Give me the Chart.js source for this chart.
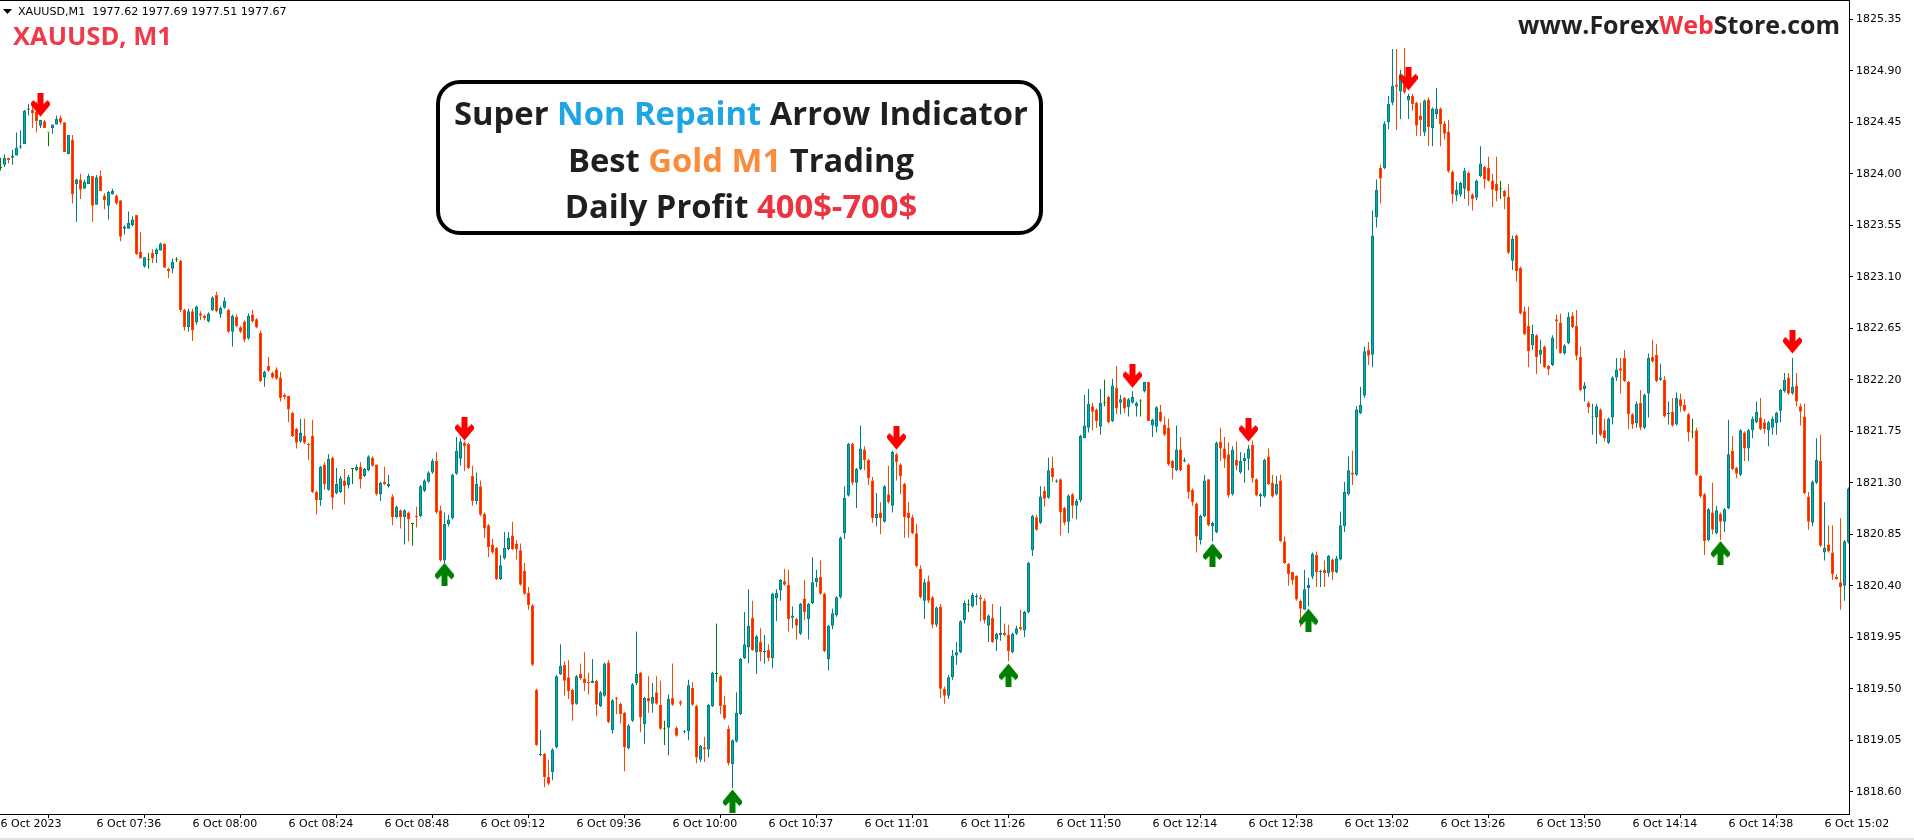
<!DOCTYPE html>
<html>
<head>
<meta charset="utf-8">
<title>XAUUSD M1</title>
<script src="https://cdn.jsdelivr.net/npm/chart.js@4.4.1/dist/chart.umd.min.js"></script>
<style>
    html, body { margin: 0; padding: 0; background: #fff; overflow: hidden; }
    #wrap { width: 1914px; height: 840px; }
</style>
</head>
<body>
<div id="wrap"><canvas id="chart" width="1914" height="840"></canvas></div>
<script>
// ── Price data, one M1 bar per entry ─────────────────────────────────
const opens = [
    1824.05, 1824.08, 1824.14, 1824.14, 1824.16, 1824.23, 1824.26, 1824.56, 1824.56, 1824.54,
    1824.42, 1824.46, 1824.36, 1824.40, 1824.43, 1824.49, 1824.45, 1824.17, 1824.30, 1823.91,
    1823.95, 1823.87, 1823.91, 1823.98, 1823.73, 1823.98, 1823.81, 1823.72, 1823.82, 1823.81,
    1823.77, 1823.52, 1823.52, 1823.55, 1823.64, 1823.32, 1823.19, 1823.25, 1823.31, 1823.30,
    1823.33, 1823.39, 1823.17, 1823.17, 1823.25, 1823.24, 1822.81, 1822.66, 1822.80, 1822.70,
    1822.78, 1822.76, 1822.71, 1822.81, 1822.94, 1822.77, 1822.83, 1822.81, 1822.62, 1822.75,
    1822.66, 1822.71, 1822.56, 1822.77, 1822.73, 1822.61, 1822.22, 1822.32, 1822.26, 1822.29,
    1822.22, 1822.07, 1822.06, 1821.91, 1821.77, 1821.66, 1821.71, 1821.64, 1821.71, 1821.22,
    1821.15, 1821.46, 1821.24, 1821.52, 1821.21, 1821.22, 1821.32, 1821.28, 1821.42, 1821.41,
    1821.44, 1821.36, 1821.41, 1821.52, 1821.46, 1821.20, 1821.31, 1821.27, 1821.18, 1821.00,
    1821.06, 1821.00, 1821.04, 1820.94, 1821.01, 1821.01, 1821.23, 1821.31, 1821.39, 1821.49,
    1821.06, 1820.62, 1820.94, 1820.99, 1821.38, 1821.51, 1821.65, 1821.64, 1821.36, 1821.14,
    1821.27, 1821.03, 1820.93, 1820.76, 1820.73, 1820.46, 1820.64, 1820.72, 1820.84, 1820.77,
    1820.71, 1820.53, 1820.34, 1820.23, 1819.49, 1818.92, 1818.93, 1818.73, 1818.77, 1818.99,
    1819.63, 1819.71, 1819.60, 1819.49, 1819.37, 1819.63, 1819.59, 1819.56, 1819.55, 1819.57,
    1819.35, 1819.44, 1819.73, 1819.14, 1819.42, 1819.37, 1819.29, 1818.98, 1819.22, 1819.55,
    1819.64, 1819.19, 1819.42, 1819.37, 1819.47, 1819.36, 1819.15, 1819.16, 1819.42, 1819.16,
    1819.39, 1819.12, 1819.13, 1819.51, 1819.35, 1818.88, 1818.99, 1818.97, 1819.35, 1819.63,
    1819.61, 1819.36, 1819.15, 1818.84, 1819.04, 1819.28, 1819.77, 1819.86, 1820.12, 1819.82,
    1819.91, 1819.82, 1819.84, 1819.77, 1820.29, 1820.36, 1820.44, 1820.41, 1820.12, 1820.11,
    1819.98, 1820.29, 1820.11, 1820.25, 1820.43, 1820.48, 1820.33, 1819.76, 1820.05, 1820.14,
    1820.30, 1820.86, 1821.19, 1821.64, 1821.30, 1821.42, 1821.59, 1821.50, 1821.32, 1820.99,
    1821.04, 1820.96, 1821.20, 1821.10, 1821.55, 1821.46, 1821.29, 1821.04, 1821.00, 1820.86,
    1820.55, 1820.27, 1820.44, 1820.30, 1820.06, 1820.22, 1819.50, 1819.44, 1819.60, 1819.79,
    1819.82, 1820.10, 1820.23, 1820.22, 1820.30, 1820.30, 1820.27, 1820.05, 1820.12, 1819.93,
    1819.97, 1819.99, 1819.97, 1819.82, 1819.98, 1820.04, 1820.01, 1820.17, 1820.71, 1821.00,
    1820.95, 1821.23, 1821.17, 1821.43, 1821.31, 1821.33, 1821.08, 1820.96, 1821.20, 1821.10,
    1821.15, 1821.69, 1821.78, 1821.97, 1821.94, 1821.79, 1822.00, 1822.05, 1821.84, 1822.13,
    1822.00, 1822.04, 1821.96, 1822.00, 1821.97, 1822.01, 1822.10, 1822.18, 1821.80, 1821.79,
    1821.92, 1821.81, 1821.78, 1821.49, 1821.41, 1821.59, 1821.49, 1821.46, 1821.24, 1821.12,
    1820.80, 1821.01, 1821.33, 1820.92, 1820.87, 1821.66, 1821.60, 1821.55, 1821.20, 1821.50,
    1821.39, 1821.49, 1821.51, 1821.63, 1821.33, 1821.18, 1821.18, 1821.53, 1821.30, 1821.20,
    1821.32, 1820.79, 1820.59, 1820.52, 1820.49, 1820.27, 1820.19, 1820.38, 1820.48, 1820.67,
    1820.52, 1820.54, 1820.51, 1820.63, 1820.52, 1820.63, 1820.92, 1821.20, 1821.39, 1821.37,
    1821.91, 1822.06, 1822.46, 1822.42, 1823.62, 1824.05, 1824.05, 1824.45, 1824.62, 1824.78,
    1824.72, 1824.86, 1824.64, 1824.68, 1824.62, 1824.51, 1824.36, 1824.65, 1824.40, 1824.52,
    1824.57, 1824.44, 1824.37, 1824.02, 1823.81, 1823.82, 1823.87, 1824.01, 1823.82, 1823.79,
    1823.98, 1824.06, 1824.05, 1823.94, 1823.91, 1823.87, 1823.85, 1823.80, 1823.24, 1823.46,
    1823.18, 1822.80, 1822.67, 1822.50, 1822.59, 1822.42, 1822.49, 1822.32, 1822.33, 1822.73,
    1822.70, 1822.43, 1822.52, 1822.76, 1822.67, 1822.40, 1822.12, 1822.00, 1821.87, 1821.87,
    1821.94, 1821.76, 1821.65, 1821.87, 1822.22, 1822.30, 1822.39, 1822.18, 1821.90, 1821.82,
    1822.00, 1821.78, 1822.08, 1822.40, 1822.42, 1822.20, 1822.20, 1821.90, 1821.92, 1821.81,
    1822.03, 1821.98, 1821.90, 1821.74, 1821.76, 1821.36, 1821.20, 1820.80, 1821.04, 1820.86,
    1821.03, 1820.96, 1821.08, 1821.58, 1821.43, 1821.37, 1821.74, 1821.60, 1821.76, 1821.83,
    1821.87, 1821.83, 1821.76, 1821.78, 1821.82, 1821.93, 1822.10, 1822.22, 1822.08, 1822.15,
    1821.97, 1821.88, 1821.18, 1820.95, 1821.30, 1821.49, 1820.69, 1820.76, 1820.69, 1820.48,
    1820.43, 1820.40, 1820.78
];
const highs = [
    1824.14, 1824.17, 1824.14, 1824.21, 1824.36, 1824.38, 1824.56, 1824.61, 1824.63, 1824.63,
    1824.47, 1824.47, 1824.36, 1824.43, 1824.51, 1824.51, 1824.45, 1824.34, 1824.34, 1823.96,
    1824.00, 1823.95, 1824.00, 1823.98, 1823.99, 1824.03, 1823.83, 1823.85, 1823.87, 1823.82,
    1823.77, 1823.55, 1823.67, 1823.63, 1823.64, 1823.49, 1823.27, 1823.31, 1823.34, 1823.35,
    1823.40, 1823.39, 1823.18, 1823.26, 1823.27, 1823.25, 1822.82, 1822.82, 1822.82, 1822.85,
    1822.80, 1822.77, 1822.79, 1822.93, 1822.97, 1822.84, 1822.92, 1822.82, 1822.77, 1822.77,
    1822.67, 1822.72, 1822.78, 1822.81, 1822.74, 1822.63, 1822.28, 1822.40, 1822.27, 1822.31,
    1822.27, 1822.08, 1822.06, 1821.92, 1821.78, 1821.86, 1821.86, 1821.65, 1821.85, 1821.23,
    1821.45, 1821.48, 1821.55, 1821.53, 1821.43, 1821.36, 1821.42, 1821.37, 1821.42, 1821.46,
    1821.48, 1821.43, 1821.54, 1821.53, 1821.46, 1821.31, 1821.44, 1821.37, 1821.20, 1821.10,
    1821.07, 1821.07, 1821.05, 1820.95, 1821.09, 1821.28, 1821.33, 1821.40, 1821.51, 1821.57,
    1821.10, 1821.04, 1821.02, 1821.38, 1821.70, 1821.69, 1821.66, 1821.65, 1821.45, 1821.39,
    1821.32, 1821.04, 1820.94, 1820.81, 1820.74, 1820.67, 1820.87, 1820.87, 1820.96, 1820.80,
    1820.77, 1820.60, 1820.39, 1820.24, 1819.50, 1819.14, 1818.94, 1818.88, 1818.98, 1819.62,
    1819.89, 1819.74, 1819.75, 1819.50, 1819.62, 1819.72, 1819.82, 1819.64, 1819.76, 1819.58,
    1819.48, 1819.73, 1819.75, 1819.41, 1819.43, 1819.38, 1819.30, 1819.19, 1819.55, 1820.00,
    1819.65, 1819.43, 1819.61, 1819.55, 1819.61, 1819.57, 1819.22, 1819.45, 1819.72, 1819.17,
    1819.40, 1819.14, 1819.58, 1819.56, 1819.36, 1819.01, 1819.08, 1819.37, 1819.65, 1820.07,
    1819.62, 1819.44, 1819.18, 1819.06, 1819.47, 1819.77, 1820.17, 1820.37, 1820.27, 1819.97,
    1820.03, 1819.97, 1819.89, 1820.34, 1820.37, 1820.46, 1820.55, 1820.54, 1820.22, 1820.12,
    1820.25, 1820.45, 1820.25, 1820.65, 1820.54, 1820.62, 1820.34, 1820.06, 1820.20, 1820.31,
    1820.83, 1821.27, 1821.65, 1821.65, 1821.43, 1821.80, 1821.62, 1821.51, 1821.35, 1821.21,
    1821.13, 1821.28, 1821.45, 1821.58, 1821.56, 1821.47, 1821.30, 1821.13, 1821.02, 1820.94,
    1820.58, 1820.46, 1820.49, 1820.31, 1820.22, 1820.24, 1819.52, 1819.62, 1819.84, 1819.91,
    1820.10, 1820.27, 1820.28, 1820.34, 1820.33, 1820.32, 1820.29, 1820.15, 1820.24, 1819.99,
    1820.22, 1820.07, 1820.06, 1819.99, 1820.05, 1820.19, 1820.18, 1820.61, 1821.02, 1821.02,
    1821.27, 1821.27, 1821.52, 1821.53, 1821.33, 1821.34, 1821.09, 1821.20, 1821.21, 1821.16,
    1821.72, 1822.07, 1822.12, 1822.00, 1821.95, 1822.12, 1822.20, 1822.06, 1822.21, 1822.32,
    1822.07, 1822.05, 1822.04, 1822.10, 1822.01, 1822.03, 1822.18, 1822.18, 1821.86, 1821.97,
    1821.98, 1821.88, 1821.86, 1821.50, 1821.80, 1821.70, 1821.52, 1821.47, 1821.25, 1821.13,
    1821.02, 1821.37, 1821.33, 1820.96, 1821.66, 1821.78, 1821.70, 1821.65, 1821.62, 1821.66,
    1821.57, 1821.56, 1821.63, 1821.67, 1821.34, 1821.21, 1821.51, 1821.60, 1821.37, 1821.36,
    1821.37, 1820.83, 1820.60, 1820.52, 1820.49, 1820.28, 1820.54, 1820.47, 1820.69, 1820.70,
    1820.54, 1820.62, 1820.67, 1820.64, 1820.66, 1821.05, 1821.31, 1821.53, 1821.58, 1821.97,
    1822.14, 1822.49, 1822.53, 1823.68, 1823.95, 1824.08, 1824.46, 1824.68, 1825.09, 1825.09,
    1824.91, 1825.10, 1824.70, 1824.70, 1824.63, 1824.62, 1824.65, 1824.67, 1824.58, 1824.75,
    1824.58, 1824.46, 1824.47, 1824.03, 1823.93, 1823.93, 1824.05, 1824.02, 1823.83, 1823.95,
    1824.24, 1824.07, 1824.15, 1824.00, 1824.15, 1823.94, 1823.86, 1823.91, 1823.46, 1823.47,
    1823.19, 1822.84, 1822.84, 1822.68, 1822.60, 1822.55, 1822.50, 1822.33, 1822.59, 1822.77,
    1822.78, 1822.51, 1822.79, 1822.79, 1822.81, 1822.49, 1822.18, 1822.01, 1821.99, 1821.99,
    1821.95, 1821.86, 1821.87, 1822.23, 1822.39, 1822.39, 1822.46, 1822.19, 1821.91, 1822.01,
    1822.11, 1822.08, 1822.43, 1822.55, 1822.51, 1822.34, 1822.23, 1822.01, 1822.04, 1822.09,
    1822.08, 1822.03, 1821.91, 1821.86, 1821.78, 1821.37, 1821.21, 1821.08, 1821.30, 1821.10,
    1821.04, 1821.08, 1821.85, 1821.71, 1821.44, 1821.77, 1821.75, 1821.77, 1821.88, 1822.01,
    1822.04, 1821.86, 1821.84, 1821.88, 1821.92, 1822.12, 1822.26, 1822.26, 1822.39, 1822.26,
    1821.99, 1821.99, 1821.22, 1821.32, 1821.69, 1821.72, 1821.13, 1820.93, 1820.93, 1820.50,
    1820.99, 1820.80, 1821.26
];
const lows = [
    1824.03, 1824.06, 1824.09, 1824.08, 1824.16, 1824.22, 1824.26, 1824.51, 1824.40, 1824.36,
    1824.40, 1824.40, 1824.24, 1824.35, 1824.43, 1824.43, 1824.19, 1824.17, 1823.74, 1823.58,
    1823.78, 1823.87, 1823.91, 1823.58, 1823.73, 1823.85, 1823.69, 1823.60, 1823.82, 1823.73,
    1823.41, 1823.47, 1823.52, 1823.54, 1823.29, 1823.26, 1823.18, 1823.17, 1823.22, 1823.22,
    1823.33, 1823.18, 1823.09, 1823.13, 1823.23, 1822.79, 1822.63, 1822.62, 1822.54, 1822.68,
    1822.72, 1822.72, 1822.70, 1822.80, 1822.79, 1822.74, 1822.82, 1822.61, 1822.49, 1822.66,
    1822.61, 1822.53, 1822.55, 1822.70, 1822.65, 1822.18, 1822.14, 1822.27, 1822.21, 1822.20,
    1822.01, 1822.03, 1821.83, 1821.70, 1821.60, 1821.65, 1821.64, 1821.50, 1821.21, 1821.02,
    1821.10, 1821.24, 1821.23, 1821.07, 1821.20, 1821.21, 1821.11, 1821.25, 1821.29, 1821.40,
    1821.25, 1821.35, 1821.40, 1821.44, 1821.19, 1821.14, 1821.28, 1821.26, 1820.93, 1820.99,
    1820.90, 1820.76, 1820.79, 1820.75, 1820.91, 1821.00, 1821.22, 1821.30, 1821.38, 1821.03,
    1820.61, 1820.60, 1820.92, 1820.98, 1821.37, 1821.45, 1821.40, 1821.42, 1821.10, 1821.11,
    1821.01, 1820.82, 1820.65, 1820.68, 1820.45, 1820.45, 1820.63, 1820.71, 1820.71, 1820.63,
    1820.40, 1820.32, 1820.19, 1819.70, 1819.00, 1818.91, 1818.64, 1818.66, 1818.70, 1818.98,
    1819.62, 1819.44, 1819.41, 1819.22, 1819.36, 1819.58, 1819.48, 1819.45, 1819.55, 1819.26,
    1819.34, 1819.43, 1819.20, 1819.11, 1819.28, 1819.20, 1818.78, 1818.97, 1819.21, 1819.53,
    1819.12, 1819.02, 1819.29, 1819.29, 1819.36, 1819.14, 1819.01, 1818.92, 1819.35, 1819.08,
    1819.35, 1819.11, 1819.05, 1819.35, 1818.85, 1818.86, 1818.86, 1818.90, 1819.34, 1819.56,
    1819.28, 1819.23, 1818.83, 1818.63, 1819.03, 1819.27, 1819.76, 1819.72, 1819.83, 1819.63,
    1819.74, 1819.72, 1819.74, 1819.68, 1820.09, 1820.27, 1820.40, 1820.00, 1820.03, 1819.93,
    1819.97, 1820.10, 1819.93, 1820.24, 1820.39, 1820.32, 1819.82, 1819.66, 1820.02, 1820.13,
    1820.29, 1820.81, 1821.18, 1821.28, 1821.08, 1821.41, 1821.41, 1821.28, 1820.95, 1820.92,
    1820.85, 1820.95, 1821.12, 1821.04, 1821.32, 1821.20, 1820.82, 1820.82, 1820.85, 1820.56,
    1820.29, 1820.11, 1820.25, 1820.03, 1820.04, 1819.42, 1819.37, 1819.41, 1819.58, 1819.71,
    1819.81, 1820.07, 1820.17, 1820.21, 1820.23, 1820.09, 1820.07, 1819.91, 1819.90, 1819.83,
    1819.92, 1819.96, 1819.74, 1819.81, 1819.97, 1820.01, 1819.95, 1820.16, 1820.66, 1820.88,
    1820.94, 1821.09, 1821.16, 1821.31, 1821.30, 1820.84, 1820.93, 1820.86, 1820.99, 1820.98,
    1821.13, 1821.69, 1821.74, 1821.76, 1821.78, 1821.72, 1821.97, 1821.82, 1821.83, 1821.90,
    1821.90, 1821.91, 1821.88, 1821.99, 1821.88, 1821.88, 1822.09, 1821.84, 1821.70, 1821.74,
    1821.83, 1821.71, 1821.45, 1821.33, 1821.40, 1821.40, 1821.48, 1821.16, 1821.10, 1820.69,
    1820.76, 1821.00, 1820.92, 1820.79, 1820.86, 1821.49, 1821.43, 1821.17, 1821.19, 1821.41,
    1821.38, 1821.30, 1821.41, 1821.30, 1821.18, 1821.09, 1821.17, 1821.28, 1821.17, 1821.19,
    1820.78, 1820.59, 1820.40, 1820.41, 1820.27, 1820.04, 1820.19, 1820.22, 1820.46, 1820.39,
    1820.39, 1820.39, 1820.48, 1820.45, 1820.51, 1820.62, 1820.87, 1821.19, 1821.28, 1821.36,
    1821.90, 1822.04, 1822.33, 1822.31, 1823.53, 1823.74, 1824.04, 1824.39, 1824.60, 1824.38,
    1824.48, 1824.70, 1824.48, 1824.55, 1824.33, 1824.33, 1824.33, 1824.24, 1824.24, 1824.48,
    1824.24, 1824.30, 1824.01, 1823.74, 1823.76, 1823.80, 1823.78, 1823.72, 1823.68, 1823.77,
    1823.97, 1823.87, 1823.93, 1823.71, 1823.76, 1823.78, 1823.69, 1823.30, 1823.16, 1823.06,
    1822.77, 1822.59, 1822.31, 1822.46, 1822.25, 1822.34, 1822.30, 1822.24, 1822.32, 1822.47,
    1822.43, 1822.42, 1822.51, 1822.65, 1822.37, 1822.10, 1822.01, 1821.91, 1821.72, 1821.64,
    1821.71, 1821.66, 1821.64, 1821.81, 1822.19, 1822.08, 1822.18, 1821.77, 1821.77, 1821.78,
    1821.76, 1821.77, 1821.87, 1822.35, 1822.18, 1822.19, 1821.87, 1821.81, 1821.79, 1821.80,
    1821.92, 1821.92, 1821.66, 1821.69, 1821.36, 1821.17, 1820.67, 1820.79, 1820.85, 1820.85,
    1820.80, 1820.87, 1821.07, 1821.41, 1821.34, 1821.36, 1821.49, 1821.49, 1821.69, 1821.82,
    1821.76, 1821.73, 1821.62, 1821.72, 1821.72, 1821.83, 1822.09, 1822.07, 1822.07, 1821.97,
    1821.80, 1821.20, 1820.89, 1820.92, 1821.29, 1820.74, 1820.62, 1820.69, 1820.45, 1820.45,
    1820.19, 1820.27, 1820.77
];
const closes = [
    1824.05, 1824.14, 1824.12, 1824.16, 1824.23, 1824.24, 1824.55, 1824.57, 1824.53, 1824.46,
    1824.47, 1824.40, 1824.36, 1824.43, 1824.48, 1824.45, 1824.19, 1824.34, 1823.82, 1823.95,
    1823.86, 1823.93, 1823.98, 1823.72, 1823.97, 1823.85, 1823.77, 1823.84, 1823.85, 1823.74,
    1823.45, 1823.54, 1823.57, 1823.60, 1823.30, 1823.26, 1823.27, 1823.25, 1823.26, 1823.34,
    1823.39, 1823.18, 1823.15, 1823.23, 1823.25, 1822.81, 1822.66, 1822.80, 1822.63, 1822.84,
    1822.76, 1822.74, 1822.78, 1822.92, 1822.80, 1822.83, 1822.89, 1822.62, 1822.76, 1822.67,
    1822.62, 1822.55, 1822.76, 1822.71, 1822.66, 1822.19, 1822.27, 1822.28, 1822.22, 1822.21,
    1822.04, 1822.05, 1821.94, 1821.71, 1821.65, 1821.74, 1821.65, 1821.63, 1821.22, 1821.15,
    1821.44, 1821.29, 1821.51, 1821.17, 1821.29, 1821.34, 1821.27, 1821.35, 1821.42, 1821.44,
    1821.33, 1821.42, 1821.53, 1821.45, 1821.20, 1821.30, 1821.29, 1821.29, 1821.00, 1821.09,
    1821.00, 1821.06, 1820.98, 1820.94, 1821.00, 1821.27, 1821.32, 1821.39, 1821.49, 1821.04,
    1820.62, 1820.94, 1820.98, 1821.37, 1821.58, 1821.66, 1821.62, 1821.43, 1821.14, 1821.29,
    1821.02, 1820.90, 1820.74, 1820.69, 1820.46, 1820.58, 1820.73, 1820.82, 1820.72, 1820.72,
    1820.41, 1820.33, 1820.23, 1819.71, 1819.01, 1818.93, 1818.73, 1818.67, 1818.97, 1819.61,
    1819.70, 1819.57, 1819.48, 1819.36, 1819.61, 1819.59, 1819.55, 1819.55, 1819.57, 1819.36,
    1819.47, 1819.72, 1819.21, 1819.40, 1819.41, 1819.28, 1818.99, 1819.18, 1819.54, 1819.63,
    1819.25, 1819.42, 1819.39, 1819.43, 1819.37, 1819.15, 1819.15, 1819.41, 1819.36, 1819.09,
    1819.37, 1819.13, 1819.53, 1819.36, 1818.90, 1819.00, 1818.97, 1819.36, 1819.64, 1819.63,
    1819.35, 1819.24, 1818.85, 1819.05, 1819.29, 1819.76, 1819.89, 1820.05, 1819.84, 1819.96,
    1819.82, 1819.83, 1819.77, 1820.33, 1820.34, 1820.45, 1820.41, 1820.11, 1820.14, 1820.05,
    1820.24, 1820.17, 1820.24, 1820.43, 1820.47, 1820.33, 1819.83, 1820.05, 1820.16, 1820.30,
    1820.82, 1821.17, 1821.64, 1821.30, 1821.42, 1821.60, 1821.50, 1821.34, 1820.99, 1821.03,
    1820.99, 1821.27, 1821.13, 1821.57, 1821.48, 1821.36, 1821.00, 1820.99, 1820.86, 1820.57,
    1820.30, 1820.43, 1820.27, 1820.06, 1820.21, 1819.50, 1819.44, 1819.60, 1819.79, 1819.82,
    1820.09, 1820.25, 1820.23, 1820.32, 1820.31, 1820.28, 1820.10, 1820.14, 1819.91, 1819.98,
    1819.99, 1819.97, 1819.83, 1819.98, 1820.03, 1820.02, 1820.17, 1820.60, 1821.01, 1820.89,
    1821.18, 1821.16, 1821.41, 1821.35, 1821.32, 1821.04, 1820.95, 1821.19, 1821.10, 1821.14,
    1821.71, 1821.80, 1821.99, 1821.92, 1821.84, 1822.00, 1822.00, 1821.83, 1822.15, 1821.95,
    1822.03, 1821.95, 1822.03, 1822.05, 1822.00, 1822.01, 1822.18, 1821.84, 1821.85, 1821.96,
    1821.84, 1821.72, 1821.46, 1821.43, 1821.59, 1821.41, 1821.50, 1821.22, 1821.13, 1820.83,
    1821.01, 1821.32, 1820.93, 1820.95, 1821.65, 1821.60, 1821.51, 1821.19, 1821.59, 1821.45,
    1821.49, 1821.52, 1821.60, 1821.34, 1821.19, 1821.20, 1821.50, 1821.29, 1821.18, 1821.29,
    1820.79, 1820.60, 1820.50, 1820.45, 1820.28, 1820.20, 1820.37, 1820.41, 1820.68, 1820.52,
    1820.53, 1820.51, 1820.66, 1820.52, 1820.64, 1820.93, 1821.22, 1821.41, 1821.37, 1821.94,
    1821.98, 1822.45, 1822.41, 1823.46, 1823.86, 1823.96, 1824.44, 1824.61, 1824.77, 1824.76,
    1824.87, 1824.71, 1824.68, 1824.61, 1824.42, 1824.47, 1824.64, 1824.41, 1824.57, 1824.57,
    1824.43, 1824.35, 1824.02, 1823.82, 1823.86, 1823.92, 1824.03, 1823.85, 1823.78, 1823.94,
    1824.09, 1823.95, 1823.94, 1823.86, 1823.85, 1823.87, 1823.80, 1823.31, 1823.43, 1823.15,
    1822.78, 1822.60, 1822.45, 1822.60, 1822.40, 1822.46, 1822.31, 1822.29, 1822.57, 1822.71,
    1822.43, 1822.50, 1822.75, 1822.66, 1822.41, 1822.11, 1822.15, 1821.96, 1821.88, 1821.97,
    1821.72, 1821.69, 1821.86, 1822.22, 1822.29, 1822.28, 1822.19, 1821.90, 1821.81, 1821.99,
    1821.78, 1822.07, 1822.39, 1822.36, 1822.19, 1822.22, 1821.88, 1821.91, 1821.80, 1822.04,
    1821.97, 1821.93, 1821.74, 1821.74, 1821.37, 1821.18, 1820.79, 1821.07, 1820.89, 1821.06,
    1820.96, 1821.07, 1821.55, 1821.42, 1821.38, 1821.76, 1821.60, 1821.76, 1821.86, 1821.92,
    1821.77, 1821.77, 1821.83, 1821.86, 1821.91, 1822.11, 1822.20, 1822.08, 1822.14, 1822.01,
    1821.92, 1821.21, 1820.96, 1821.31, 1821.50, 1820.75, 1820.73, 1820.70, 1820.50, 1820.46,
    1820.39, 1820.79, 1821.25
];

// time axis: one label every 24 bars
const timeLabels = [
    '6 Oct 2023', '6 Oct 07:36', '6 Oct 08:00', '6 Oct 08:24', '6 Oct 08:48',
    '6 Oct 09:12', '6 Oct 09:36', '6 Oct 10:00', '6 Oct 10:37', '6 Oct 11:01',
    '6 Oct 11:26', '6 Oct 11:50', '6 Oct 12:14', '6 Oct 12:38', '6 Oct 13:02',
    '6 Oct 13:26', '6 Oct 13:50', '6 Oct 14:14', '6 Oct 14:38', '6 Oct 15:02'
];
const barsPerLabel = 24;

const priceTicks = [
    1818.60, 1819.05, 1819.50, 1819.95, 1820.40, 1820.85, 1821.30, 1821.75,
    1822.20, 1822.65, 1823.10, 1823.55, 1824.00, 1824.45, 1824.90, 1825.35
];

// indicator signals: bar index + price level of the arrow
const sellBars   = [10, 116, 224, 283, 312, 352, 448];
const sellLevels = [1824.60, 1821.77, 1821.69, 1822.23, 1821.76, 1824.83, 1822.53];
const buyBars    = [111, 183, 252, 303, 327, 430];
const buyLevels  = [1820.50, 1818.52, 1819.62, 1820.67, 1820.10, 1820.69];

// ── Colours ──────────────────────────────────────────────────────────
const BULL_FILL = '#00b0b0';
const BULL_LINE = '#008080';
const BEAR_FILL = '#ff1e00';
const BEAR_LINE = '#ff4500';
const DOJI = '#008000';

function direction(i) {
    if (closes[i] > opens[i]) return 1;
    if (closes[i] < opens[i]) return -1;
    return 0;
}

// thick MT4-style arrow as a point image
function makeArrow(color, up) {
    const c = document.createElement('canvas');
    c.width = 19;
    c.height = 24;
    const g = c.getContext('2d');
    const pts = [[6.5, 0], [12.5, 0], [12.5, 11], [16.5, 7], [19, 9.5], [19, 12], [9.5, 23.5],
                 [0, 12], [0, 9.5], [2.5, 7], [6.5, 11]];
    g.fillStyle = color;
    g.beginPath();
    pts.forEach(([x, y], k) => {
        const yy = up ? 24 - y : y;
        if (k === 0) g.moveTo(x, yy); else g.lineTo(x, yy);
    });
    g.closePath();
    g.fill();
    return c;
}

function fitFont(ctx, text, weight, family, width) {
    ctx.font = `${weight} 100px ${family}`;
    const size = 100 * width / ctx.measureText(text).width;
    return `${weight} ${size.toFixed(2)}px ${family}`;
}

function drawRuns(ctx, runs, x, y, align) {
    const total = runs.reduce((s, r) => s + ctx.measureText(r[0]).width, 0);
    let cx = align === 'center' ? x - total / 2 : align === 'right' ? x - total : x;
    ctx.textAlign = 'left';
    runs.forEach(([t, c]) => {
        ctx.fillStyle = c;
        ctx.fillText(t, cx, y);
        cx += ctx.measureText(t).width;
    });
}

// ── Overlay: frame, header texts, promo box ──────────────────────────
const overlay = {
    id: 'overlay',
    afterDraw(chart) {
        const { ctx, chartArea: a } = chart;
        ctx.save();
        ctx.fillStyle = '#000';
        ctx.fillRect(0, 0, a.right + 1, 1);
        ctx.fillStyle = '#e4e4e4';
        ctx.fillRect(0, chart.height - 2, chart.width, 2);

        // symbol line
        ctx.fillStyle = '#000';
        ctx.beginPath();
        ctx.moveTo(3, 9); ctx.lineTo(12, 9); ctx.lineTo(7.5, 14);
        ctx.closePath();
        ctx.fill();
        const head = 'XAUUSD,M1  1977.62 1977.69 1977.51 1977.67';
        ctx.font = fitFont(ctx, head, 'normal', '"DejaVu Sans"', 269);
        ctx.textBaseline = 'alphabetic';
        ctx.textAlign = 'left';
        ctx.fillText(head, 18, 15);

        ctx.font = fitFont(ctx, 'XAUUSD, M1', 'bold', '"Open Sans"', 159);
        ctx.fillStyle = '#ef3b49';
        ctx.fillText('XAUUSD, M1', 13, 45);

        const site = [['www.Forex', '#222'], ['Web', '#f2323f'], ['Store.com', '#222']];
        ctx.font = fitFont(ctx, 'www.ForexWebStore.com', 'bold', '"Open Sans"', 322);
        drawRuns(ctx, site, 1840, 34, 'right');

        // promo box
        ctx.beginPath();
        ctx.roundRect(438, 82, 603, 151, 22);
        ctx.fillStyle = '#fff';
        ctx.fill();
        ctx.lineWidth = 4;
        ctx.strokeStyle = '#000';
        ctx.stroke();

        const dark = '#1f1f1f';
        const line1 = [['Super ', dark], ['Non Repaint', '#1ea5e6'], [' Arrow Indicator', dark]];
        const line2 = [['Best ', dark], ['Gold M1', '#fa8c3b'], [' Trading', dark]];
        const line3 = [['Daily Profit ', dark], ['400$-700$', '#ec3441']];
        ctx.font = fitFont(ctx, 'Super Non Repaint Arrow Indicator', 'bold', '"Open Sans"', 574);
        drawRuns(ctx, line1, 741, 125, 'center');
        drawRuns(ctx, line2, 741, 172, 'center');
        drawRuns(ctx, line3, 741, 218, 'center');
        ctx.restore();
    }
};

// ── Chart ────────────────────────────────────────────────────────────
Chart.defaults.font.family = '"DejaVu Sans", sans-serif';
Chart.defaults.font.size = 11;
Chart.defaults.color = '#000';

const wickData = highs.map((h, i) => ({ x: i, y: [lows[i], h] }));
const bodyData = opens.map((o, i) => ({ x: i, y: [o, closes[i]] }));

new Chart(document.getElementById('chart'), {
    type: 'bar',
    data: {
        datasets: [
            {
                label: 'sell',
                type: 'line',
                data: sellBars.map((b, k) => ({ x: b, y: sellLevels[k] })),
                showLine: false,
                pointStyle: makeArrow('#ff0000', false),
                pointRadius: 12,
                order: 0,
            },
            {
                label: 'buy',
                type: 'line',
                data: buyBars.map((b, k) => ({ x: b, y: buyLevels[k] })),
                showLine: false,
                pointStyle: makeArrow('#008000', true),
                pointRadius: 12,
                order: 0,
            },
            {
                label: 'body',
                data: bodyData,
                grouped: false,
                barPercentage: 1,
                categoryPercentage: 1,
                maxBarThickness: 3,
                minBarLength: 1,
                inflateAmount: 0,
                borderWidth: 1,
                borderSkipped: false,
                backgroundColor: c => {
                    const d = direction(c.dataIndex);
                    return d > 0 ? BULL_FILL : d < 0 ? BEAR_FILL : DOJI;
                },
                borderColor: c => {
                    const d = direction(c.dataIndex);
                    return d > 0 ? BULL_LINE : d < 0 ? BEAR_LINE : DOJI;
                },
                order: 1,
            },
            {
                label: 'wick',
                data: wickData,
                grouped: false,
                barPercentage: 1,
                categoryPercentage: 1,
                maxBarThickness: 1,
                minBarLength: 1,
                inflateAmount: 0,
                borderWidth: 0,
                backgroundColor: c => {
                    const d = direction(c.dataIndex);
                    return d > 0 ? BULL_LINE : d < 0 ? BEAR_LINE : DOJI;
                },
                order: 2,
            }
        ]
    },
    options: {
        responsive: false,
        animation: false,
        devicePixelRatio: 1,
        events: [],
        layout: { autoPadding: false, padding: { top: 1, left: 0, right: 0, bottom: 0 } },
        plugins: {
            legend: { display: false },
            tooltip: { enabled: false },
        },
        scales: {
            x: {
                type: 'linear',
                min: -0.125,
                max: opens.length - 0.875,
                offset: false,
                afterBuildTicks: s => { s.ticks = timeLabels.map((t, k) => ({ value: k * barsPerLabel })); },
                afterFit: s => { s.height = 26; s.paddingLeft = 0; s.paddingRight = 0; },
                ticks: {
                    align: 'start',
                    autoSkip: false,
                    maxRotation: 0,
                    minRotation: 0,
                    padding: 0,
                    callback: (v, k) => timeLabels[k],
                },
                grid: { drawOnChartArea: false, tickLength: 4, color: '#000' },
                border: { display: true, color: '#000', width: 1 },
            },
            y: {
                position: 'right',
                min: 1818.406,
                max: 1825.51,
                afterBuildTicks: s => { s.ticks = priceTicks.map(v => ({ value: v })); },
                afterFit: s => { s.width = 65; s.paddingTop = 0; s.paddingBottom = 0; },
                ticks: { padding: 3, callback: v => v.toFixed(2) },
                grid: { drawOnChartArea: false, tickLength: 4, color: '#000' },
                border: { display: true, color: '#000', width: 1 },
            }
        }
    },
    plugins: [overlay]
});
</script>
</body>
</html>
